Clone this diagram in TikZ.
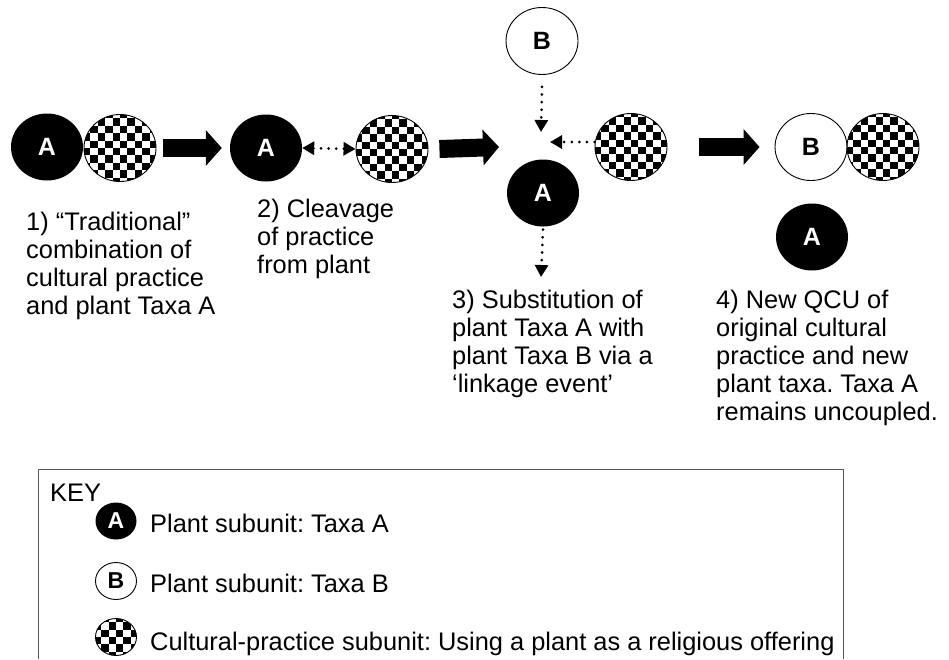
\documentclass[tikz,border=0pt]{standalone}
\usepackage{fontspec}
\setmainfont{Liberation Sans}
\usetikzlibrary{shapes.geometric,arrows.meta}
\frenchspacing

\tikzset{
  unit/.style={ellipse, inner sep=0pt, minimum width=72pt, minimum height=67pt,
    font=\bfseries\fontsize{25}{25}\selectfont},
  taxaA/.style={unit, fill=black, text=white},
  taxaB/.style={unit, draw, line width=0.9pt},
  practice/.style={unit, draw, line width=0.9pt, path picture={
      \foreach \i in {-6,...,5}{
        \foreach \j in {-6,...,5}{
          \pgfmathtruncatemacro\cell{mod(\i+\j+20,2)}
          \ifnum\cell=0
            \fill ([shift={(\i*7.4pt,\j*7.4pt)}]path picture bounding box.center) rectangle ++(7.4pt,7.4pt);
          \fi
        }
      }}},
  keyunit/.style={minimum width=41pt, minimum height=37pt, font=\bfseries\fontsize{23}{23}\selectfont},
  caption/.style={anchor=north west, inner sep=0pt, align=left, font=\fontsize{25.4}{28}\selectfont},
  keytext/.style={anchor=base west, inner sep=0pt, font=\fontsize{25.4}{28}\selectfont},
  bigarrow/.style={line width=18pt, -{Triangle[length=16pt,width=35pt]}},
  link/.style={line width=3pt, line cap=round, dash pattern=on 0pt off 7.6pt},
  dothead/.tip={Triangle[length=12pt,width=13pt]}
}

\begin{document}
\begin{tikzpicture}[x=1pt, y=-1pt]
  \useasboundingbox (0,0) rectangle (949,659);

  % 1) traditional combination
  \node[taxaA] (a1) at (47,147) {A};
  \node[practice] (p1) at (120,148) {};
  \node[caption] (t1) at (26,212) {1) “Traditional”\\combination of\\cultural practice\\and plant Taxa A};

  % 2) cleavage
  \node[taxaA] (a2) at (266,148) {A};
  \node[practice] (p2) at (392,149) {};
  \node[caption] (t2) at (257,199) {2) Cleavage\\of practice\\from plant};

  % 3) substitution
  \node[taxaB] (b3) at (542,41) {B};
  \node[practice] (p3) at (631,147) {};
  \node[taxaA] (a3) at (543,193) {A};
  \coordinate (meet) at (541,142);
  \coordinate (drop) at (541,277);
  \node[caption] (t3) at (452,290) {3) Substitution of\\plant Taxa A with\\plant Taxa B via a\\‘linkage event’};

  % 4) new QCU
  \node[taxaB] (b4) at (811,147) {B};
  \node[practice] (p4) at (883,147) {};
  \node[taxaA] (a4) at (812,237) {A};
  \node[caption] (t4) at (716,290) {4) New QCU of\\original cultural\\practice and new\\plant taxa. Taxa A\\remains uncoupled.};

  % arrows
  \draw[bigarrow] ([xshift=7pt]p1.east) -- ([xshift=-8pt]a2.west);
  \draw[bigarrow] ([xshift=11pt]p2.east) -- ([xshift=-42pt,yshift=-5pt]meet);
  \draw[bigarrow] ([xshift=32pt]p3.east) -- ([xshift=-15pt]b4.west);
  \draw[link, dothead-dothead] (a2.east) -- (p2.west);
  \draw[link, -dothead] ([yshift=-12pt]b3.south) -- ([yshift=10pt]meet);
  \draw[link, -dothead] ([yshift=5pt]p3.west) -- ([xshift=9pt]meet);
  \draw[link, -dothead] ([yshift=-3pt]a3.south) -- (drop);

  % key
  \draw[line width=0.8pt, draw=black!65] (38,659) |- (843,469) -- (843,659);
  \node[keytext] (khead) at (50,501) {KEY};
  \node[taxaA, keyunit] (ka) at (116,521) {A};
  \node[keytext] (kta) at (150,532) {Plant subunit: Taxa A};
  \node[taxaB, keyunit] (kb) at (116,581) {B};
  \node[keytext] (ktb) at (150,592) {Plant subunit: Taxa B};
  \node[practice, keyunit] (kp) at (116,637) {};
  \node[keytext] (ktp) at (150,650) {Cultural-practice subunit: Using a plant as a religious offering};
\end{tikzpicture}
\end{document}
